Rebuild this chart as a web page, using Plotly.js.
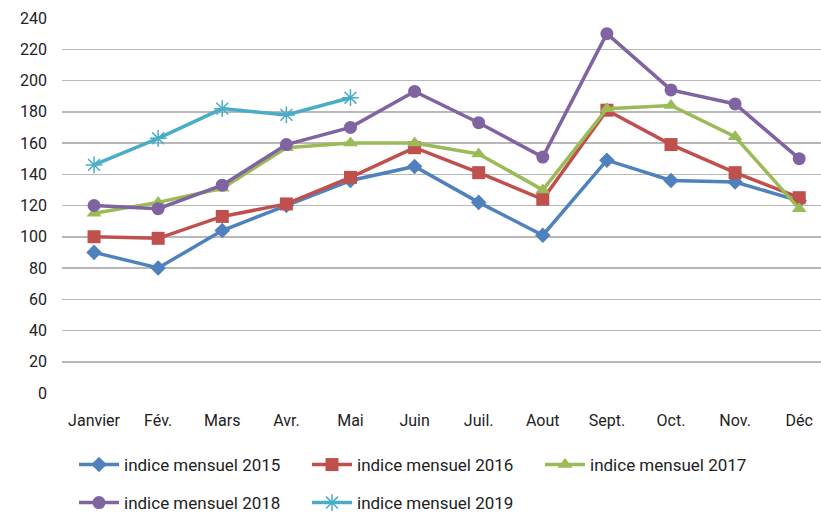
<!DOCTYPE html>
<html><head><meta charset="utf-8">
<script src="https://cdn.plot.ly/plotly-3.0.1.min.js"></script>
<style>html,body{margin:0;padding:0;background:#fff}#c{width:821px;height:512px}</style>
</head><body><div id="c"></div>
<script>
const months = ["Janvier","Fév.","Mars","Avr.","Mai","Juin","Juil.","Aout","Sept.","Oct.","Nov.","Déc"];
const names = ["indice mensuel 2015","indice mensuel 2016","indice mensuel 2017","indice mensuel 2018","indice mensuel 2019"];
const v2015 = [90,80,104,120,136,145,122,101,149,136,135,123];
const v2016 = [100,99,113,121,138,157,141,124,181,159,141,125];
const v2017 = [115,122,131,157,160,160,153,130,182,184,164,118];
const v2018 = [120,118,133,159,170,193,173,151,230,194,185,150];
const v2019 = [146,163,182,178,189];
const yTicks = [0,20,40,60,80,100,120,140,160,180,200,220,240];

const colors = ["#4F81BD","#C0504D","#9BBB59","#8064A2","#4BACC6"];
const symbols = ["diamond","square","triangle-up","circle","asterisk-open"];
const sizes = [12,13,13,13,14];
const series = [v2015,v2016,v2017,v2018,v2019];
const legends = ["legend","legend","legend","legend2","legend2"];
const font = "'Roboto', sans-serif";

const data = series.map((s,i)=>({
  type:"scatter", mode:"lines+markers", name:names[i],
  x: months.slice(0,s.length), y:s,
  line:{color:colors[i], width:3.5},
  marker:{symbol:symbols[i], size:sizes[i], color:colors[i], line:{color:colors[i], width: i===4?1.5:0}},
  legend: legends[i]
}));

const legendBase = {orientation:"h", xanchor:"left", yanchor:"middle", entrywidth:178, entrywidthmode:"pixels",
  font:{family:font, size:17, color:"#222"}, bgcolor:"rgba(0,0,0,0)", itemwidth:40, tracegroupgap:0};

const layout = {
  width:821, height:512,
  margin:{l:62, r:0, t:18, b:119},
  paper_bgcolor:"#fff", plot_bgcolor:"#fff",
  showlegend:true,
  xaxis:{type:"category", categoryarray:months, range:[-0.5, 11.34], showgrid:false, zeroline:false,
    showline:false, ticks:"", ticklabelstandoff:16, tickfont:{family:font, size:16, color:"#222"}},
  yaxis:{range:[0,240], tickvals:yTicks, ticktext:yTicks.map(String), showgrid:true, gridcolor:"#B8B8B8", gridwidth:1.5,
    zeroline:false, showline:false, ticks:"", ticklabelstandoff:14, tickfont:{family:font, size:16, color:"#222"}},
  legend:Object.assign({}, legendBase, {x:74/821, y:(512-465)/512, xref:"container", yref:"container"}),
  legend2:Object.assign({}, legendBase, {x:74/821, y:(512-503)/512, xref:"container", yref:"container"})
};
Plotly.newPlot("c", data, layout, {displayModeBar:false, staticPlot:true});
</script></body></html>
